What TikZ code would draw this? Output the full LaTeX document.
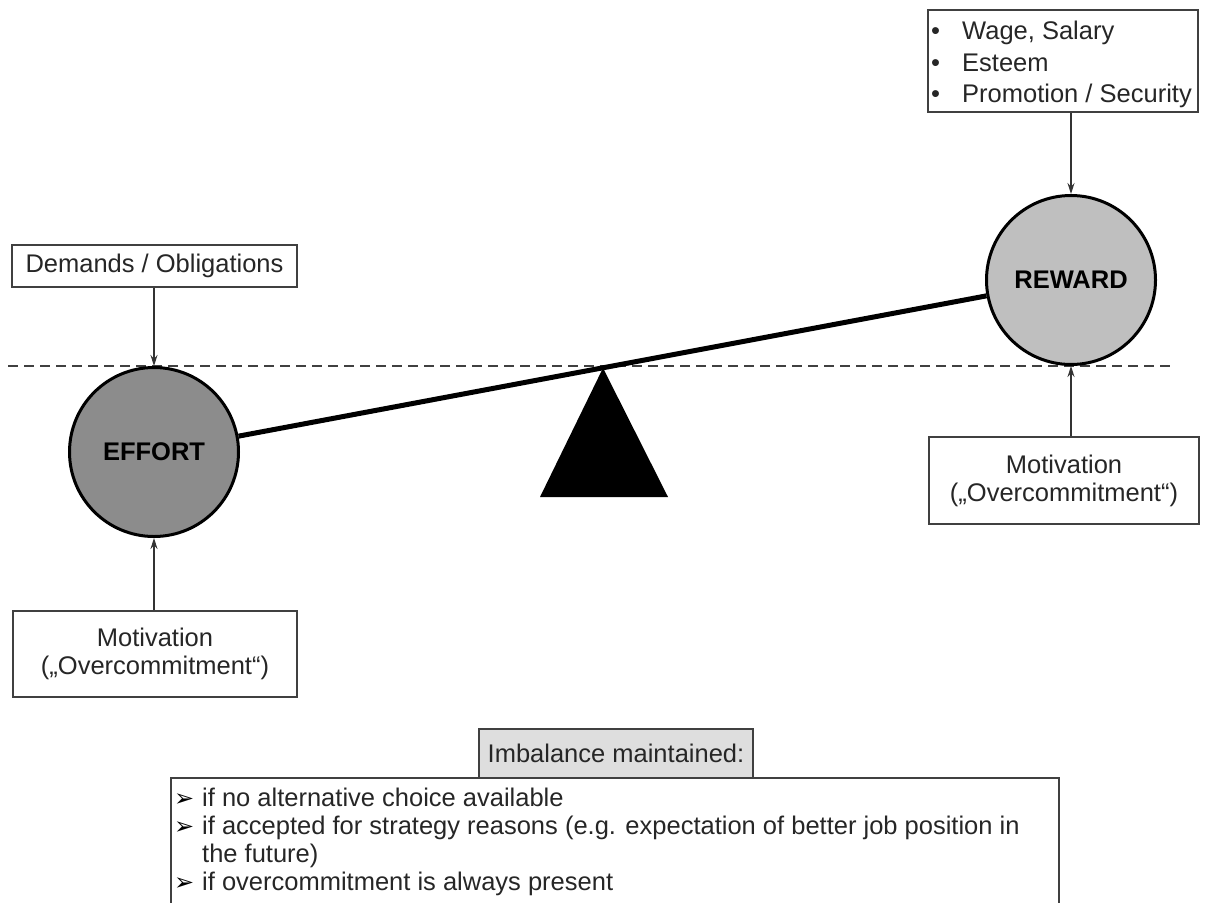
\documentclass[tikz,border=0pt]{standalone}
\usepackage{fontspec}
\setmainfont{Liberation Sans}
\newfontfamily\dejavu{DejaVu Sans}
\usetikzlibrary{arrows.meta}
\begin{document}
\begin{tikzpicture}[x=1pt,y=-1pt,
  every node/.style={font=\fontsize{25.5}{28}\selectfont, text=black!85},
  box/.style={draw=black!75, line width=1.5pt, fill=white, inner sep=0pt, align=center},
  ball/.style={circle, draw=black, line width=3pt, minimum size=169pt, inner sep=0pt,
    font=\fontsize{25.5}{28}\selectfont\bfseries, text=black},
  arr/.style={-{Stealth[length=11pt,width=7pt]}, line width=1.2pt, draw=black!80},
  lbl/.style={anchor=base west, inner sep=0pt},
  tip/.style={anchor=base west, inner sep=0pt, font=\dejavu\fontsize{24}{28}\selectfont, text=black},
  beam/.style={line width=5pt, draw=black},
  guide/.style={dashed, dash pattern=on 10pt off 6pt, line width=1.5pt, draw=black!75}
]
\useasboundingbox (0,0) rectangle (1212,902);

% dashed horizontal line
\coordinate (gl) at (8,366);
\coordinate (gr) at (1170,366);
\draw[guide] (gl) -- (gr);

% circles
\node[ball, fill=black!45] (effort) at (154,452) {EFFORT};
\node[ball, fill=black!25] (reward) at (1071,280) {REWARD};

% beam and fulcrum
\draw[beam] (effort) -- (reward);
\coordinate (apex) at (603,368);
\coordinate (bl) at (540,497);
\coordinate (br) at (668,497);
\fill[black] (apex) -- (bl) -- (br) -- cycle;

% boxes
\node[box, minimum width=285pt, minimum height=42pt] (demands) at (154.5,266) {Demands / Obligations};
\node[box, minimum width=270pt, minimum height=102pt] (wage) at (1063,61) {};
\node[box, minimum width=270pt, minimum height=87pt] (mright) at (1064,480.5) {Motivation\\(„Overcommitment“)};
\node[box, minimum width=284pt, minimum height=86pt] (mleft) at (155,654) {Motivation\\(„Overcommitment“)};

% wage box content
\node[lbl] (b1) at (931,39) {•};
\node[lbl] (b2) at (931,71) {•};
\node[lbl] (b3) at (931,102) {•};
\node[lbl] (w1) at (962,39) {Wage, Salary};
\node[lbl] (w2) at (962,71) {Esteem};
\node[lbl] (w3) at (962,102) {Promotion / Security};

% arrows
\draw[arr] (effort.north |- demands.south) -- (effort.north);
\draw[arr] (reward.north |- wage.south) -- (reward.north);
\draw[arr] (effort.south |- mleft.north) -- (effort.south);
\draw[arr] (reward.south |- mright.north) -- (reward.south);

% imbalance
\coordinate (lb1) at (171,915);
\coordinate (lb2) at (171,778);
\coordinate (lb3) at (1059,778);
\coordinate (lb4) at (1059,915);
\draw[draw=black!75, line width=1.5pt] (lb1) -- (lb2) -- (lb3) -- (lb4);
\node[box, fill=black!13, minimum width=274pt, minimum height=49pt] (imb) at (616,753.5) {Imbalance maintained:};

\node[tip] (a1) at (174,806) {➢};
\node[tip] (a2) at (174,834) {➢};
\node[tip] (a3) at (174,890) {➢};
\node[lbl] (l1) at (202,806) {if no alternative choice available};
\node[lbl] (l2) at (202,834) {if accepted for strategy reasons (e.g. expectation of better job position in};
\node[lbl] (l3) at (202,862) {the future)};
\node[lbl] (l4) at (202,890) {if overcommitment is always present};
\end{tikzpicture}
\end{document}
